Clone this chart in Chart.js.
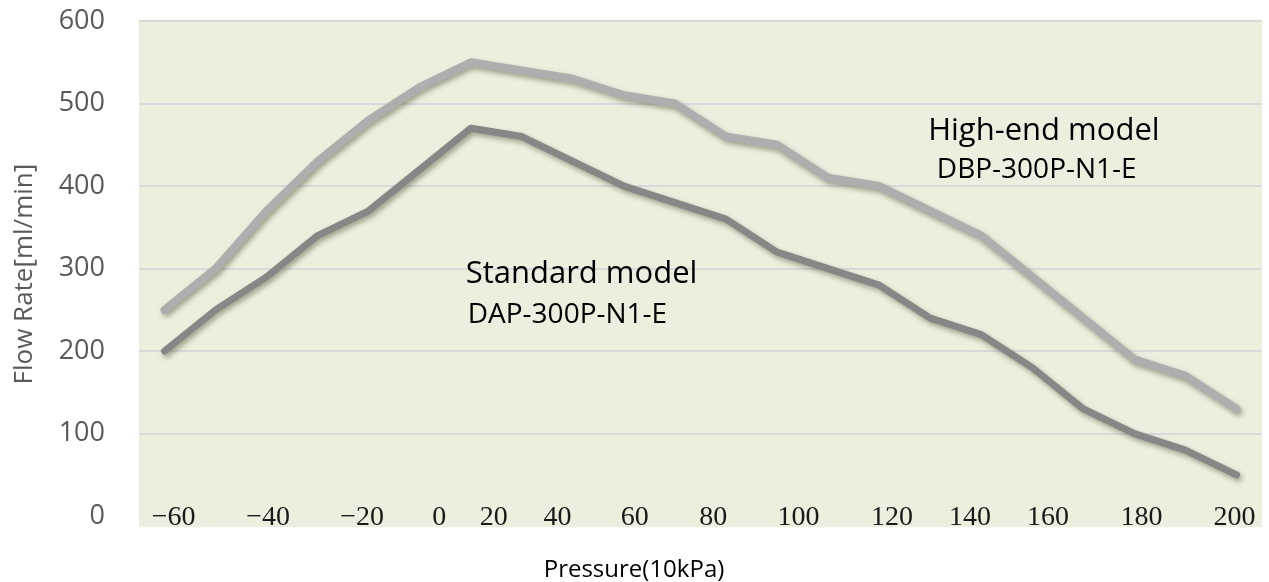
<!DOCTYPE html>
<html><head><meta charset="utf-8">
<script src="https://cdn.jsdelivr.net/npm/chart.js@4/dist/chart.umd.min.js"></script>
<style>html,body{margin:0;padding:0;background:#fff;}#wrap{width:1269px;height:582px;position:relative;}</style>
</head><body><div id="wrap"><canvas id="c"></canvas></div>
<script>
// measurement points (equally spaced along the curve)
const pointIds = ['p1','p2','p3','p4','p5','p6','p7','p8','p9','p10','p11','p12','p13','p14','p15','p16','p17','p18','p19','p20','p21','p22'];
const highEndFlow  = [250,300,370,430,480,520,550,540,530,510,500,460,450,410,400,370,340,290,240,190,170,130];
const standardFlow = [200,250,290,340,370,420,470,460,430,400,380,360,320,300,280,240,220,180,130,100,80,50];
// pressure tick labels and where they sit along the point index axis
const xTickLabels = ['\u221260','\u221240','\u221220','0','20','40','60','80','100','120','140','160','180','200'];
const xTickAt     = [0.18,2.03,3.87,5.38,6.45,7.70,9.21,10.75,12.42,14.25,15.78,17.31,19.14,20.96];
const yTickValues = [0,100,200,300,400,500,600];
// text notes: text, index position, flow value
const noteTexts  = ['Standard model','DAP-300P-N1-E','High-end model','DBP-300P-N1-E'];
const noteX      = [5.9, 5.94, 14.96, 15.13];
const noteY      = [282, 234, 456, 410];

const notePx = [31, 28, 31, 28];

const bgPlugin = {
  id:'bg',
  beforeDraw(chart){
    const {ctx, chartArea:a} = chart;
    ctx.save();
    ctx.fillStyle = '#EBEFDE';
    ctx.fillRect(a.left, a.top, a.right - a.left, a.bottom - a.top);
    ctx.restore();
  }
};
const shadowPlugin = {
  id:'shadow',
  beforeDatasetDraw(chart){
    const ctx = chart.ctx;
    ctx.save();
    ctx.shadowColor = 'rgba(60,70,40,0.45)';
    ctx.shadowBlur = 5;
    ctx.shadowOffsetX = 2;
    ctx.shadowOffsetY = 3;
  },
  afterDatasetDraw(chart){ chart.ctx.restore(); }
};
const notesPlugin = {
  id:'notes',
  afterDatasetsDraw(chart){
    const ctx = chart.ctx, xs = chart.scales.xp, ys = chart.scales.y;
    ctx.save();
    ctx.fillStyle = '#000';
    ctx.textBaseline = 'alphabetic';
    ctx.textAlign = 'left';
    noteTexts.forEach((t,i)=>{
      ctx.font = notePx[i] + 'px "Open Sans"';
      ctx.fillText(t, xs.getPixelForValue(noteX[i]), ys.getPixelForValue(noteY[i]));
    });
    ctx.restore();
  }
};

new Chart(document.getElementById('c'), {
  type:'line',
  data:{
    labels: pointIds,
    datasets:[
      {label:'High-end model DBP-300P-N1-E', data: highEndFlow, borderColor:'#AEAEAE', borderWidth:8, pointRadius:0, tension:0, borderCapStyle:'round', borderJoinStyle:'round', fill:false},
      {label:'Standard model DAP-300P-N1-E', data: standardFlow, borderColor:'#878787', borderWidth:7, pointRadius:0, tension:0, borderCapStyle:'round', borderJoinStyle:'round', fill:false}
    ]
  },
  options:{
    responsive:true, maintainAspectRatio:false, animation:false,
    layout:{padding:{top:21, right:7, bottom:0, left:6}},
    plugins:{legend:{display:false}, tooltip:{enabled:false},
      title:{display:true, position:'bottom', text:'Pressure(10kPa)', color:'#000', font:{family:'"Open Sans"', size:24, weight:'normal'}, padding:{top:29, bottom:-3}}
    },
    scales:{
      x:{type:'category', display:false, offset:true},
      xp:{type:'linear', position:'bottom', axis:'x', min:-0.5, max:21.5,
        afterBuildTicks(axis){ axis.ticks = xTickAt.map(v=>({value:v})); },
        grid:{display:false, drawTicks:false},
        border:{display:false},
        ticks:{autoSkip:false, maxRotation:0, mirror:true, padding:0, color:'#1a1a1a',
          font:{family:'"Liberation Serif"', size:28, lineHeight:0.714},
          callback:(v,i)=>xTickLabels[i]}
      },
      y:{min:-13.33, max:600,
        afterBuildTicks(axis){ axis.ticks = yTickValues.map(v=>({value:v})); },
        afterFit(scale){ scale.paddingTop = 0; scale.paddingBottom = 0; scale.width = 133; },
        grid:{color:(c)=> c.tick && c.tick.value===0 ? 'rgba(0,0,0,0)' : '#D9D9DC', lineWidth:2, drawTicks:false},
        border:{display:false},
        ticks:{padding:34, color:'#595959', font:{family:'"Open Sans"', size:27}},
        title:{display:true, text:'Flow Rate[ml/min]', color:'#595959', font:{family:'"Open Sans"', size:26}, padding:{top:3,bottom:10}}
      }
    }
  },
  plugins:[bgPlugin, shadowPlugin, notesPlugin]
});
</script></body></html>
